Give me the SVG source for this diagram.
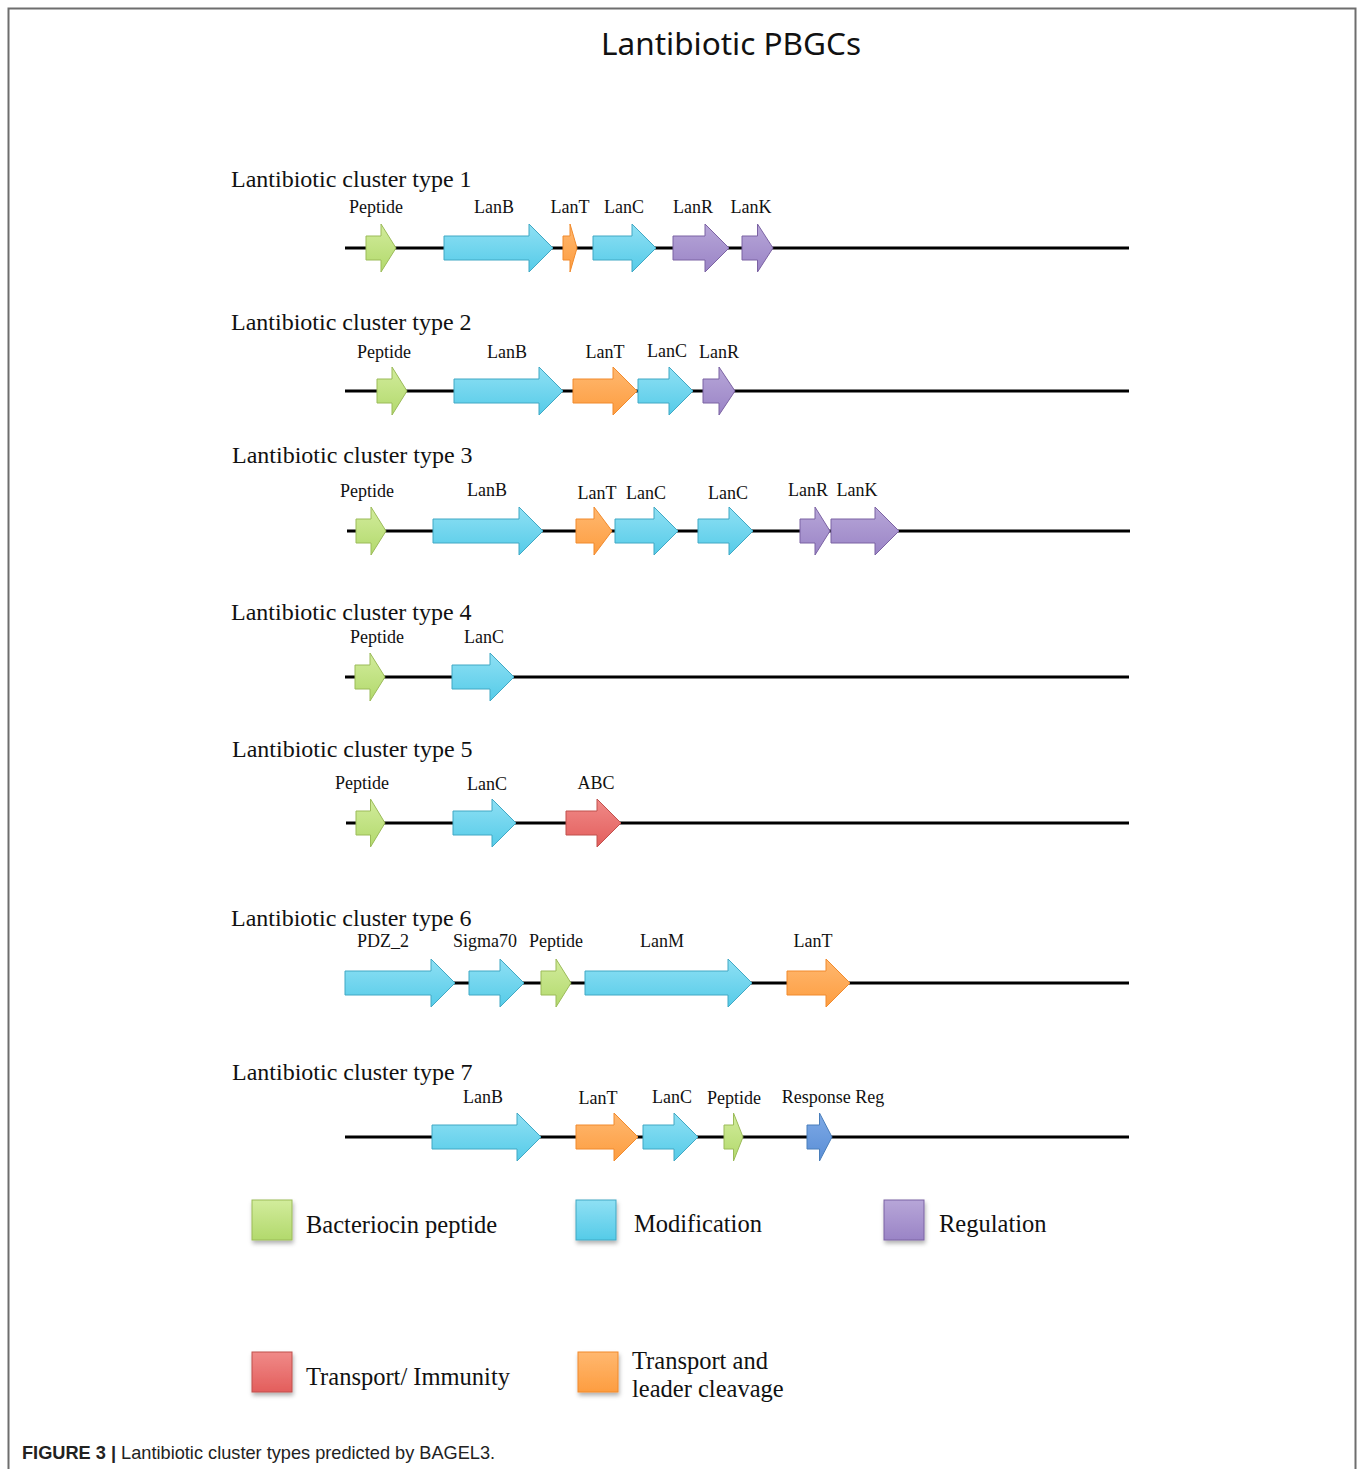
<svg xmlns="http://www.w3.org/2000/svg" width="1360" height="1469" viewBox="0 0 1360 1469">
<defs>
<linearGradient id="gG" x1="0" y1="0" x2="0" y2="1"><stop offset="0" stop-color="#d2ec9c"/><stop offset="1" stop-color="#b2d96c"/></linearGradient>
<linearGradient id="gC" x1="0" y1="0" x2="0" y2="1"><stop offset="0" stop-color="#8fe0f4"/><stop offset="1" stop-color="#55cbe8"/></linearGradient>
<linearGradient id="gP" x1="0" y1="0" x2="0" y2="1"><stop offset="0" stop-color="#b7a6d8"/><stop offset="1" stop-color="#9a84c6"/></linearGradient>
<linearGradient id="gO" x1="0" y1="0" x2="0" y2="1"><stop offset="0" stop-color="#ffb870"/><stop offset="1" stop-color="#fd9d40"/></linearGradient>
<linearGradient id="gR" x1="0" y1="0" x2="0" y2="1"><stop offset="0" stop-color="#f08a88"/><stop offset="1" stop-color="#e35e5c"/></linearGradient>
<linearGradient id="gB" x1="0" y1="0" x2="0" y2="1"><stop offset="0" stop-color="#7eaae6"/><stop offset="1" stop-color="#5a8ed6"/></linearGradient>
<filter id="sh" x="-20%" y="-20%" width="150%" height="150%"><feDropShadow dx="1" dy="3" stdDeviation="2" flood-color="#000" flood-opacity="0.3"/></filter>
</defs>
<style>
.ttl{font-family:"Noto Sans","Open Sans",sans-serif;font-size:31px;fill:#111}
.ct{font-family:"Liberation Serif","Times New Roman",serif;font-size:24px;fill:#111}
.gl{font-family:"Liberation Serif","Times New Roman",serif;font-size:18px;fill:#111;text-anchor:middle}
.lg{font-family:"Liberation Serif","Times New Roman",serif;font-size:24.5px;fill:#111}
.cap{font-family:"Liberation Sans",Arial,sans-serif;font-size:18.2px;fill:#222}
.ln{stroke:#000;stroke-width:3;fill:none}
.g{fill:url(#gG);stroke:#9bbb59;stroke-width:1}
.c{fill:url(#gC);stroke:#40a8c4;stroke-width:1}
.p{fill:url(#gP);stroke:#7b62a3;stroke-width:1}
.o{fill:url(#gO);stroke:#f18a2c;stroke-width:1}
.r{fill:url(#gR);stroke:#c0504d;stroke-width:1}
.b{fill:url(#gB);stroke:#4a7ebb;stroke-width:1}
</style>
<rect width="1360" height="1469" fill="#fff"/>
<path d="M8.5,1469 V8.5 H1355.5 V1469" fill="none" stroke="#6e6e6e" stroke-width="2"/>
<text class="ttl" x="731" y="55" text-anchor="middle" textLength="260" lengthAdjust="spacingAndGlyphs">Lantibiotic PBGCs</text>

<g id="connectors">
<line class="ln" x1="345" y1="248" x2="1129" y2="248"/>
<line class="ln" x1="345" y1="391" x2="1129" y2="391"/>
<line class="ln" x1="347" y1="531" x2="1130" y2="531"/>
<line class="ln" x1="345" y1="677" x2="1129" y2="677"/>
<line class="ln" x1="346" y1="823" x2="1129" y2="823"/>
<line class="ln" x1="345" y1="983" x2="1129" y2="983"/>
<line class="ln" x1="345" y1="1137" x2="1129" y2="1137"/>
</g>

<g id="cluster1">
<text class="ct" x="231" y="187">Lantibiotic cluster type 1</text>
<text class="gl" x="376" y="213">Peptide</text>
<text class="gl" x="494" y="213">LanB</text>
<text class="gl" x="570" y="213">LanT</text>
<text class="gl" x="624" y="213">LanC</text>
<text class="gl" x="693" y="213">LanR</text>
<text class="gl" x="751" y="213">LanK</text>
<path class="g" d="M366,236H381V224L396,248L381,272V260H366Z"/>
<path class="c" d="M444,236H529V224L553,248L529,272V260H444Z"/>
<path class="o" d="M563,236H570V224L577,248L570,272V260H563Z"/>
<path class="c" d="M593,236H632V224L656,248L632,272V260H593Z"/>
<path class="p" d="M673,236H705V224L729,248L705,272V260H673Z"/>
<path class="p" d="M742,236H757.5V224L773,248L757.5,272V260H742Z"/>
</g>

<g id="cluster2">
<text class="ct" x="231" y="330">Lantibiotic cluster type 2</text>
<text class="gl" x="384" y="358">Peptide</text>
<text class="gl" x="507" y="358">LanB</text>
<text class="gl" x="605" y="358">LanT</text>
<text class="gl" x="667" y="357">LanC</text>
<text class="gl" x="719" y="358">LanR</text>
<path class="g" d="M377,379H392V367L407,391L392,415V403H377Z"/>
<path class="c" d="M454,379H539V367L563,391L539,415V403H454Z"/>
<path class="o" d="M573,379H613V367L637,391L613,415V403H573Z"/>
<path class="c" d="M638,379H669V367L693,391L669,415V403H638Z"/>
<path class="p" d="M703,379H719V367L735,391L719,415V403H703Z"/>
</g>

<g id="cluster3">
<text class="ct" x="232" y="463">Lantibiotic cluster type 3</text>
<text class="gl" x="367" y="497">Peptide</text>
<text class="gl" x="487" y="496">LanB</text>
<text class="gl" x="597" y="499">LanT</text>
<text class="gl" x="646" y="499">LanC</text>
<text class="gl" x="728" y="499">LanC</text>
<text class="gl" x="808" y="496">LanR</text>
<text class="gl" x="857" y="496">LanK</text>
<path class="g" d="M356,519H371V507L386,531L371,555V543H356Z"/>
<path class="c" d="M433,519H519V507L543,531L519,555V543H433Z"/>
<path class="o" d="M576,519H594V507L612,531L594,555V543H576Z"/>
<path class="c" d="M615,519H654V507L678,531L654,555V543H615Z"/>
<path class="c" d="M698,519H729V507L753,531L729,555V543H698Z"/>
<path class="p" d="M800,519H815V507L830,531L815,555V543H800Z"/>
<path class="p" d="M831,519H875V507L899,531L875,555V543H831Z"/>
</g>

<g id="cluster4">
<text class="ct" x="231" y="620">Lantibiotic cluster type 4</text>
<text class="gl" x="377" y="643">Peptide</text>
<text class="gl" x="484" y="643">LanC</text>
<path class="g" d="M355,665H370V653L385,677L370,701V689H355Z"/>
<path class="c" d="M452,665H490V653L514,677L490,701V689H452Z"/>
</g>

<g id="cluster5">
<text class="ct" x="232" y="757">Lantibiotic cluster type 5</text>
<text class="gl" x="362" y="789">Peptide</text>
<text class="gl" x="487" y="790">LanC</text>
<text class="gl" x="596" y="789">ABC</text>
<path class="g" d="M356,811H370.5V799L385,823L370.5,847V835H356Z"/>
<path class="c" d="M453,811H492V799L516,823L492,847V835H453Z"/>
<path class="r" d="M566,811H597V799L621,823L597,847V835H566Z"/>
</g>

<g id="cluster6">
<text class="ct" x="231" y="926">Lantibiotic cluster type 6</text>
<text class="gl" x="383" y="947">PDZ_2</text>
<text class="gl" x="485" y="947">Sigma70</text>
<text class="gl" x="556" y="947">Peptide</text>
<text class="gl" x="662" y="947">LanM</text>
<text class="gl" x="813" y="947">LanT</text>
<path class="c" d="M345,971H431V959L455,983L431,1007V995H345Z"/>
<path class="c" d="M469,971H500V959L524,983L500,1007V995H469Z"/>
<path class="g" d="M541,971H556V959L571,983L556,1007V995H541Z"/>
<path class="c" d="M585,971H728V959L752,983L728,1007V995H585Z"/>
<path class="o" d="M787,971H826V959L850,983L826,1007V995H787Z"/>
</g>

<g id="cluster7">
<text class="ct" x="232" y="1080">Lantibiotic cluster type 7</text>
<text class="gl" x="483" y="1103">LanB</text>
<text class="gl" x="598" y="1104">LanT</text>
<text class="gl" x="672" y="1103">LanC</text>
<text class="gl" x="734" y="1104">Peptide</text>
<text class="gl" x="833" y="1103">Response Reg</text>
<path class="c" d="M432,1125H517V1113L541,1137L517,1161V1149H432Z"/>
<path class="o" d="M576,1125H614V1113L638,1137L614,1161V1149H576Z"/>
<path class="c" d="M643,1125H674V1113L698,1137L674,1161V1149H643Z"/>
<path class="g" d="M724,1125H733.5V1113L743,1137L733.5,1161V1149H724Z"/>
<path class="b" d="M807,1125H819.5V1113L832,1137L819.5,1161V1149H807Z"/>
</g>

<g id="legend">
<g id="leg-bacteriocin"><rect class="g" x="252" y="1200" width="40" height="40" filter="url(#sh)"/><text class="lg" x="306" y="1233">Bacteriocin peptide</text></g>
<g id="leg-modification"><rect class="c" x="576" y="1200" width="40" height="40" filter="url(#sh)"/><text class="lg" x="634" y="1232">Modification</text></g>
<g id="leg-regulation"><rect class="p" x="884" y="1200" width="40" height="40" filter="url(#sh)"/><text class="lg" x="939" y="1232">Regulation</text></g>
<g id="leg-transport"><rect class="r" x="252" y="1352" width="40" height="40" filter="url(#sh)"/><text class="lg" x="306" y="1385">Transport/ Immunity</text></g>
<g id="leg-leader"><rect class="o" x="578" y="1352" width="40" height="40" filter="url(#sh)"/><text class="lg" x="632" y="1369">Transport and</text><text class="lg" x="632" y="1397">leader cleavage</text></g>
</g>

<text class="cap" x="22" y="1459"><tspan font-weight="bold">FIGURE 3 |</tspan> Lantibiotic cluster types predicted by BAGEL3.</text>
</svg>
